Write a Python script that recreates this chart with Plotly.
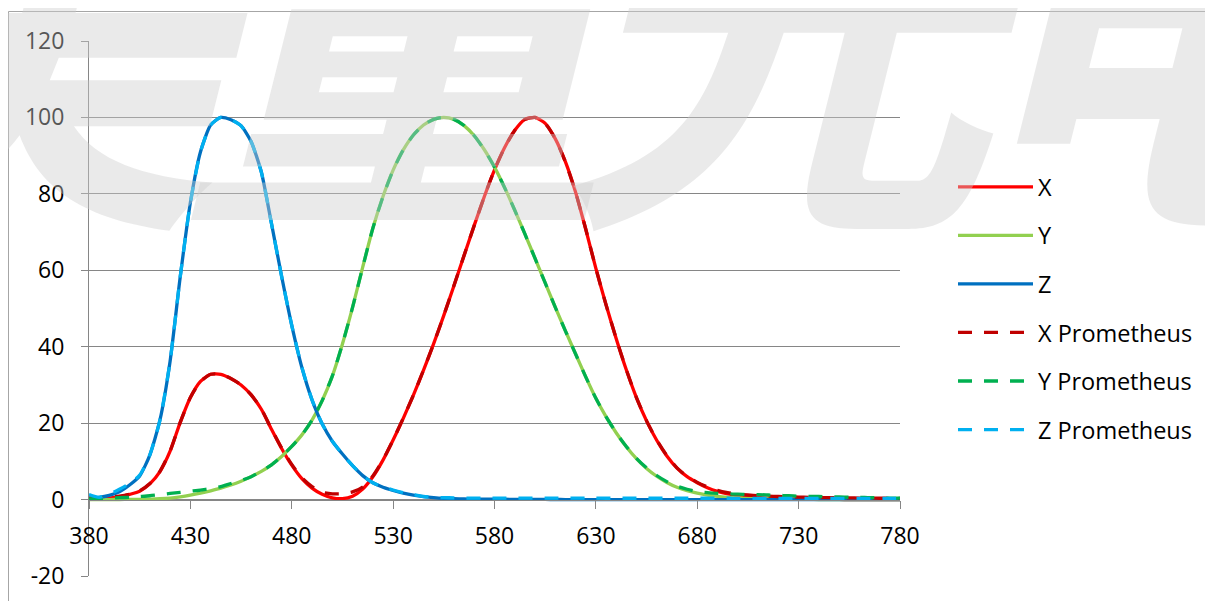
import plotly.graph_objects as go

wavelength = list(range(380, 785, 5))

x_bar = [0.13, 0.21, 0.40, 0.72, 1.35, 2.18, 4.10, 7.31, 12.65, 20.22,
         26.73, 30.93, 32.79, 32.77, 31.65, 30.00, 27.38, 23.64, 18.39, 13.38,
         9.00, 5.46, 3.01, 1.38, 0.46, 0.23, 0.88, 2.74, 5.96, 10.32,
         15.58, 21.25, 27.34, 33.86, 40.81, 48.21, 55.97, 63.87, 71.75, 79.32,
         86.27, 92.13, 96.62, 99.48, 100.0, 98.44, 94.39, 88.35, 80.44, 70.74,
         60.48, 51.02, 42.17, 33.97, 26.69, 20.59, 15.52, 11.41, 8.23, 5.99,
         4.40, 3.10, 2.14, 1.49, 1.07, 0.76, 0.55, 0.39, 0.27, 0.19,
         0.14, 0.09, 0.07, 0.05, 0.03, 0.02, 0.02, 0.01, 0.01, 0.01, 0.00]

y_bar = [0.00, 0.01, 0.01, 0.02, 0.04, 0.06, 0.12, 0.22, 0.40, 0.73,
         1.16, 1.68, 2.30, 2.98, 3.80, 4.80, 6.00, 7.39, 9.10, 11.26,
         13.90, 16.93, 20.80, 25.86, 32.30, 40.73, 50.30, 60.82, 71.00, 79.32,
         86.20, 91.49, 95.40, 98.03, 99.50, 100.0, 99.50, 97.86, 95.20, 91.54,
         87.00, 81.63, 75.70, 69.49, 63.10, 56.68, 50.30, 44.12, 38.10, 32.10,
         26.50, 21.70, 17.50, 13.82, 10.70, 8.16, 6.10, 4.46, 3.20, 2.32,
         1.70, 1.19, 0.82, 0.57, 0.41, 0.29, 0.21, 0.15, 0.10, 0.07,
         0.05, 0.04, 0.02, 0.02, 0.01, 0.01, 0.01, 0.00, 0.00, 0.00, 0.00]

z_bar = [0.36, 0.59, 1.12, 2.03, 3.81, 6.18, 11.63, 20.83, 36.22, 58.29,
         77.73, 91.04, 98.01, 100.0, 99.41, 97.84, 93.64, 85.72, 72.23, 58.45,
         45.61, 34.57, 26.10, 19.82, 15.26, 11.91, 8.87, 6.27, 4.39, 3.21,
         2.37, 1.67, 1.14, 0.75, 0.49, 0.32, 0.22, 0.15, 0.12, 0.10,
         0.09, 0.08, 0.06, 0.06, 0.04, 0.03, 0.02, 0.01, 0.01, 0.01,
         0.00, 0.00, 0.00, 0.00, 0.00, 0.00, 0.00, 0.00, 0.00, 0.00,
         0.00, 0.00, 0.00, 0.00, 0.00, 0.00, 0.00, 0.00, 0.00, 0.00,
         0.00, 0.00, 0.00, 0.00, 0.00, 0.00, 0.00, 0.00, 0.00, 0.00, 0.00]

x_prom = [0.40, 0.50, 0.60, 0.90, 1.40, 2.30, 4.20, 7.40, 12.70, 20.20,
          26.70, 30.90, 32.80, 32.80, 31.70, 30.00, 27.40, 23.70, 18.50, 13.50,
          9.20, 5.70, 3.40, 1.90, 1.50, 1.50, 2.00, 3.30, 6.20, 10.40,
          15.60, 21.30, 27.30, 33.90, 40.80, 48.20, 56.00, 63.90, 71.70, 79.30,
          86.30, 92.10, 96.60, 99.50, 100.0, 98.40, 94.40, 88.30, 80.40, 70.80,
          60.50, 51.00, 42.20, 34.00, 26.70, 20.60, 15.60, 11.50, 8.30, 6.10,
          4.50, 3.30, 2.40, 1.80, 1.40, 1.20, 1.00, 0.90, 0.80, 0.70,
          0.65, 0.60, 0.55, 0.50, 0.45, 0.45, 0.40, 0.40, 0.35, 0.35, 0.30]

y_prom = [0.20, 0.30, 0.40, 0.50, 0.60, 0.80, 1.00, 1.30, 1.60, 1.90,
          2.20, 2.50, 2.90, 3.40, 4.20, 5.00, 6.00, 7.40, 9.10, 11.30,
          13.90, 16.90, 20.80, 25.90, 32.30, 40.70, 50.30, 60.80, 71.00, 79.30,
          86.20, 91.50, 95.40, 98.00, 99.50, 100.0, 99.50, 97.90, 95.20, 91.50,
          87.00, 81.60, 75.70, 69.50, 63.10, 56.70, 50.30, 44.10, 38.10, 32.10,
          26.50, 21.70, 17.50, 13.90, 10.80, 8.30, 6.30, 4.70, 3.50, 2.70,
          2.10, 1.80, 1.60, 1.50, 1.40, 1.30, 1.30, 1.20, 1.10, 1.00,
          0.90, 0.85, 0.80, 0.70, 0.70, 0.60, 0.60, 0.50, 0.50, 0.40, 0.40]

z_prom = [1.30, 0.60, 1.40, 2.70, 4.20, 6.40, 11.70, 20.80, 36.20, 58.30,
          77.70, 91.00, 98.00, 100.0, 99.40, 97.80, 93.60, 85.70, 72.20, 58.40,
          45.60, 34.60, 26.10, 19.80, 15.30, 11.90, 8.90, 6.30, 4.40, 3.30,
          2.50, 1.80, 1.30, 0.80, 0.60, 0.50, 0.45, 0.40, 0.40, 0.40,
          0.40, 0.40, 0.40, 0.40, 0.40, 0.40, 0.40, 0.40, 0.40, 0.40,
          0.40, 0.35, 0.35, 0.35, 0.35, 0.35, 0.35, 0.35, 0.35, 0.35,
          0.35, 0.35, 0.35, 0.35, 0.30, 0.30, 0.30, 0.30, 0.30, 0.30,
          0.30, 0.30, 0.30, 0.30, 0.30, 0.30, 0.30, 0.30, 0.30, 0.30, 0.30]

series_names = ["X", "Y", "Z", "X Prometheus", "Y Prometheus", "Z Prometheus"]
series_values = [x_bar, y_bar, z_bar, x_prom, y_prom, z_prom]
series_colors = ["#ff0000", "#92d050", "#0070c0", "#c00000", "#00b050", "#00b0f0"]
series_dash = ["solid", "solid", "solid", "14px,12px", "14px,12px", "14px,12px"]

x_ticks = list(range(380, 781, 50))
y_ticks = list(range(-20, 121, 20))
watermark_chars = ["美", "量", "光", "电"]

# page body has an 8px margin: work in screen pixels and subtract it
OFF = 8
W, H = 1213 - OFF, 601 - OFF
L, R, T, B = 89 - OFF, 900 - OFF, 41 - OFF, 576 - OFF
PW, PH = R - L, B - T


def px(sx):
    return (sx - OFF - L) / PW


def py(sy):
    return (B - (sy - OFF)) / PH


FONT = "Open Sans, Noto Sans, sans-serif"

fig = go.Figure()
for i, (name, vals, col, dash) in enumerate(zip(series_names, series_values, series_colors, series_dash)):
    fig.add_trace(go.Scatter(
        x=wavelength, y=vals, mode="lines", name=name,
        legendgroup="g%d" % i,
        line=dict(color=col, width=3.3, dash=dash, shape="spline", smoothing=0.6),
        hoverinfo="skip",
    ))

fig.update_layout(
    width=W, height=H,
    margin=dict(l=L, r=W - R, t=T, b=H - B, pad=0, autoexpand=False),
    paper_bgcolor="white", plot_bgcolor="rgba(0,0,0,0)",
    font=dict(family=FONT, size=23, color="#000000"),
    showlegend=True,
    legend=dict(
        x=px(953), y=py(165), xanchor="left", yanchor="top",
        bgcolor="rgba(0,0,0,0)", itemwidth=75, tracegroupgap=15,
        font=dict(family=FONT, size=23.5, color="#000000"),
        itemclick=False, itemdoubleclick=False,
    ),
    xaxis=dict(
        range=[380, 780], tickvals=x_ticks, ticktext=[str(v) for v in x_ticks],
        anchor="free", position=(0 - (-20)) / 140.0, automargin=False,
        showline=True, linecolor="#868686", linewidth=1,
        ticks="outside", ticklen=8, tickcolor="#868686", tickwidth=1,
        showgrid=False, zeroline=False, ticklabelstandoff=8,
        tickfont=dict(family=FONT, size=23, color="#000000"),
    ),
    yaxis=dict(
        range=[-20, 120], tickvals=y_ticks, ticktext=[str(v) for v in y_ticks],
        automargin=False,
        showline=True, linecolor="#868686", linewidth=1,
        ticks="outside", ticklen=7, tickcolor="#868686", tickwidth=1,
        showgrid=True, gridcolor="#868686", gridwidth=1, zeroline=False,
        ticklabelstandoff=12,
        tickfont=dict(family=FONT, size=23, color="#000000"),
    ),
)

# chart-area border
fig.add_shape(type="rect", xref="paper", yref="paper",
              x0=px(8.5), x1=px(1400), y0=py(800), y1=py(11.5),
              line=dict(color="#a6a6a6", width=1), fillcolor="rgba(0,0,0,0)", layer="below")

# watermark, one glyph per annotation
for ch, cx in zip(watermark_chars, [25, 414, 797, 1185]):
    fig.add_annotation(
        text=ch, xref="paper", yref="paper",
        x=px(cx), y=py(318), xanchor="center", yanchor="bottom",
        showarrow=False,
        font=dict(family="Noto Sans CJK SC", size=430, color="rgba(205,205,205,0.42)",
                  weight="bold", style="italic"),
    )

fig.write_html("out.html")
